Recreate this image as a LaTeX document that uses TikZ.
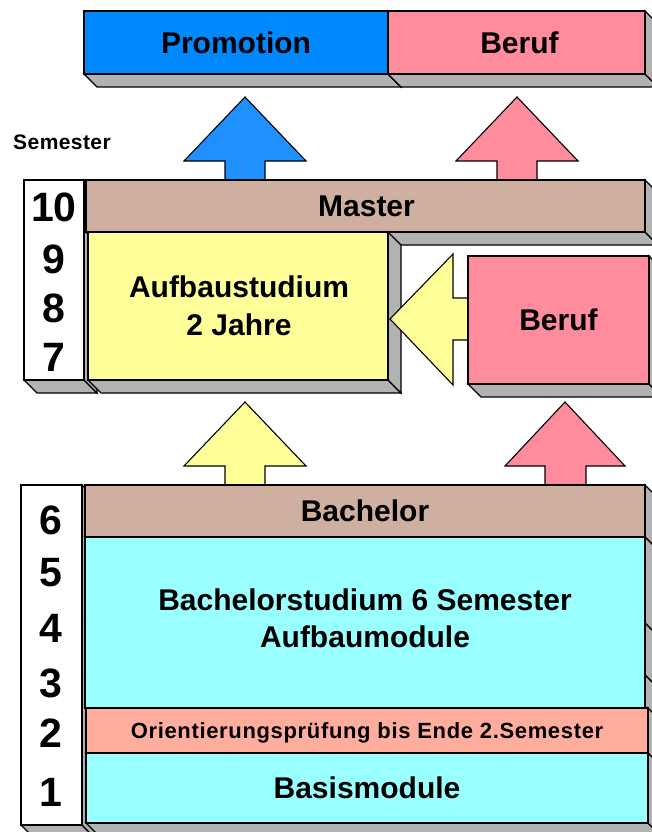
\documentclass[tikz,border=0pt]{standalone}
\usepackage{fontspec}
\setmainfont{Liberation Sans}
\definecolor{promoblue}{RGB}{0,136,255}
\definecolor{arrowblue}{RGB}{30,144,255}
\definecolor{berufpink}{RGB}{255,140,157}
\definecolor{degreebrown}{RGB}{207,176,160}
\definecolor{studyyellow}{RGB}{255,255,153}
\definecolor{studycyan}{RGB}{153,255,255}
\definecolor{orisalmon}{RGB}{255,173,156}
\definecolor{sidegray}{RGB}{178,178,178}
\newcommand{\sidefaces}[4]{%
  \filldraw[face] (#1,#4) -- (#3,#4) -- ({#3+13},{#4+13}) -- ({#1+13},{#4+13}) -- cycle;
  \filldraw[face] (#3,#2) -- ({#3+13},{#2+13}) -- ({#3+13},{#4+13}) -- (#3,#4) -- cycle;}
\tikzset{
  outline/.style={draw=black, line width=1.3pt, line join=miter},
  blk/.style={outline, inner sep=0pt, outer sep=0pt, anchor=north west},
  face/.style={fill=sidegray, draw=black, line width=1.1pt, line join=miter},
  maintext/.style={font=\fontsize{30}{36}\selectfont\bfseries, text height=21.5pt, text depth=0pt, inner sep=0pt},
  numtext/.style={font=\fontsize{41}{48}\selectfont\bfseries, text height=29.4pt, text depth=0pt, inner sep=0pt},
  blockarrow/.style={outline, line width=1.1pt}
}
\begin{document}
\begin{tikzpicture}[x=1pt,y=-1pt]
\useasboundingbox (0,0) rectangle (652,832);
% top row
\sidefaces{84}{11}{388}{74}
\sidefaces{388}{11}{645}{74}
\node[blk, fill=promoblue, minimum width=304pt, minimum height=63pt] (promo) at (84,11) {};
\node[blk, fill=berufpink, minimum width=257pt, minimum height=63pt] (beruftop) at (388,11) {};
\node[maintext] (promotxt) at (promo.center) {Promotion};
\node[maintext] (beruftoptxt) at ([xshift=3pt]beruftop.center) {Beruf};
% arrows to top
\draw[blockarrow, fill=arrowblue] (245,97) -- (306,161) -- (265,161) -- (265,180) -- (225,180) -- (225,161) -- (184,161) -- cycle;
\draw[blockarrow, fill=berufpink] (517,97) -- (578,161) -- (537,161) -- (537,180) -- (497,180) -- (497,161) -- (456,161) -- cycle;
\node[font=\fontsize{21}{25}\selectfont\bfseries\addfontfeature{LetterSpace=2}, inner sep=0pt, text height=15pt, text depth=0pt] (semlabel) at (62,142) {Semester};
% master block
\sidefaces{24}{180}{84}{380}
\node[blk, fill=white, minimum width=60pt, minimum height=200pt] (semup) at (24,180) {};
\sidefaces{86}{180}{645}{232}
\node[blk, fill=degreebrown, minimum width=559pt, minimum height=52pt] (master) at (86,180) {};
\node[maintext] (mastertxt) at ([xshift=1pt]master.center) {Master};
\sidefaces{88}{232}{388}{380}
\node[blk, fill=studyyellow, minimum width=300pt, minimum height=148pt] (aufbau) at (88,232) {};
\node[maintext] (aufbautxta) at ([xshift=1pt,yshift=19pt]aufbau.center) {Aufbaustudium};
\node[maintext] (aufbautxtb) at ([xshift=1pt,yshift=-19pt]aufbau.center) {2 Jahre};
\node[numtext] (n10) at (54,207) {10};
\node[numtext] (n9) at (54,259) {9};
\node[numtext] (n8) at (54,308) {8};
\node[numtext] (n7) at (54,357) {7};
% side Beruf
\sidefaces{468}{256}{649}{384}
\draw[blockarrow, fill=studyyellow] (390,319) -- (453,254) -- (453,298) -- (468,298) -- (468,340) -- (453,340) -- (453,385) -- cycle;
\node[blk, fill=berufpink, minimum width=181pt, minimum height=128pt] (berufside) at (468,256) {};
\node[maintext] (berufsidetxt) at (berufside.center) {Beruf};
% arrows from bachelor
\draw[blockarrow, fill=studyyellow] (245,402) -- (306,466) -- (265,466) -- (265,485) -- (225,485) -- (225,466) -- (184,466) -- cycle;
\draw[blockarrow, fill=berufpink] (565,402) -- (625,466) -- (586,466) -- (586,485) -- (545,485) -- (545,466) -- (505,466) -- cycle;
% bachelor block
\sidefaces{21}{485}{82}{825}
\node[blk, fill=white, minimum width=61pt, minimum height=340pt] (semlow) at (21,485) {};
\sidefaces{85}{485}{645}{537}
\sidefaces{85}{537}{645}{623}
\sidefaces{85}{623}{645}{675}
\sidefaces{85}{675}{645}{708}
\sidefaces{86}{708}{648}{753}
\sidefaces{86}{753}{648}{823}
\node[blk, fill=degreebrown, minimum width=560pt, minimum height=52pt] (bachelor) at (85,485) {};
\node[blk, fill=studycyan, minimum width=560pt, minimum height=171pt] (bachstud) at (85,537) {};
\node[blk, fill=orisalmon, minimum width=562pt, minimum height=45pt] (orient) at (86,708) {};
\node[blk, fill=studycyan, minimum width=562pt, minimum height=70pt] (basis) at (86,753) {};
\node[maintext] (bachelortxt) at (bachelor.center) {Bachelor};
\node[maintext] (bachstudtxta) at ([yshift=22.5pt]bachstud.center) {Bachelorstudium 6 Semester};
\node[maintext] (bachstudtxtb) at ([yshift=-14.5pt]bachstud.center) {Aufbaumodule};
\node[font=\fontsize{22}{26}\selectfont\bfseries\addfontfeature{LetterSpace=3}, inner sep=0pt, text height=15.8pt, text depth=0pt] (orienttxt) at (orient.center) {Orientierungsprüfung bis Ende 2.Semester};
\node[maintext] (basistxt) at (basis.center) {Basismodule};
\node[numtext] (n6) at (51,520) {6};
\node[numtext] (n5) at (51,572) {5};
\node[numtext] (n4) at (51,628) {4};
\node[numtext] (n3) at (51,683) {3};
\node[numtext] (n2) at (51,733) {2};
\node[numtext] (n1) at (51,792) {1};
\end{tikzpicture}
\end{document}
